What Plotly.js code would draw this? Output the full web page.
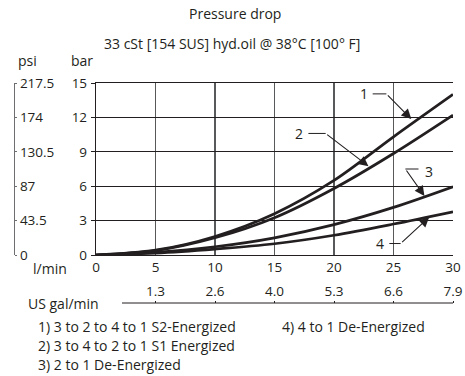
<!DOCTYPE html>
<html><head><meta charset="utf-8">
<script src="https://cdn.plot.ly/plotly-3.0.1.min.js"></script>
<style>html,body{margin:0;padding:0;background:#fff}#chart{width:465px;height:376px}</style>
</head><body><div id="chart"></div>
<script>
// ---- data ----
const flowLpm = [0, 5, 10, 15, 20, 25, 30];
const curve1 = [0, 0.42, 1.62, 3.6, 6.5, 10.3, 14.0];
const curve2 = [0, 0.38, 1.5, 3.25, 5.8, 8.85, 12.2];
const curve3 = [0, 0.24, 0.72, 1.5, 2.65, 4.15, 5.95];
const curve4 = [0, 0.17, 0.52, 0.98, 1.72, 2.7, 3.77];
const barTicks = [0, 3, 6, 9, 12, 15];
const psiTicks = [0, 43.5, 87, 130.5, 174, 217.5];
const psiLabels = ['0', '43.5', '87', '130.5', '174', '217.5'];
const lpmTicks = [0, 5, 10, 15, 20, 25, 30];
const galTicks = [5, 10, 15, 20, 25, 30];
const galLabels = ['1.3', '2.6', '4.0', '5.3', '6.6', '7.9'];
const legendLines = ['1) 3 to 2 to 4 to 1 S2-Energized', '2) 3 to 4 to 2 to 1 S1 Energized', '3) 2 to 1 De-Energized', '4) 4 to 1 De-Energized'];
const seriesNames = ['1', '2', '3', '4'];

// ---- layout geometry ----
const W = 465, H = 376, ML = 10, MR = 12, MT = 83, MB = 10;
const PW = W - ML - MR, PH = H - MT - MB;
const px = v => (v - ML) / PW;            // page x -> paper
const py = v => (H - MB - v) / PH;        // page y -> paper
const FONT = 'Open Sans, Noto Sans, sans-serif';
const TC = '#231f20';

const allCurves = [curve1, curve2, curve3, curve4];
const traces = allCurves.map((c, i) => ({
  x: flowLpm, y: c, type: 'scatter', mode: 'lines', name: seriesNames[i],
  line: {color: TC, width: 2.7, shape: 'spline', smoothing: 0.9},
  hoverinfo: 'skip', showlegend: false, xaxis: 'x', yaxis: 'y'
}));
// dummy traces to activate secondary axes
traces.push({x: [null], y: [null], xaxis: 'x2', yaxis: 'y', showlegend: false, hoverinfo: 'skip'});
traces.push({x: [null], y: [null], xaxis: 'x', yaxis: 'y2', showlegend: false, hoverinfo: 'skip'});

const xDomLeft = px(96);
const annotations = [];
const txt = (t, x, y, xa, size) => annotations.push({text: t, xref: 'paper', yref: 'paper', x: px(x), y: py(y),
  xanchor: xa || 'center', yanchor: 'middle', showarrow: false, font: {family: FONT, size: size || 14, color: TC}});
txt('Pressure drop', 235, 13);
txt('33 cSt [154 SUS] hyd.oil @ 38°C [100° F]', 232, 43);
txt('psi', 27, 61);
txt('bar', 82, 61);
txt('l/min', 50, 268);
txt('US gal/min', 63, 303);
txt(legendLines[0], 36, 326, 'left');
txt(legendLines[1], 36, 345, 'left');
txt(legendLines[2], 36, 364, 'left');
txt(legendLines[3], 280, 326, 'left');

// curve labels with bent leaders: [label, labelX, labelY, kneeX, kneeY, tipX, tipY] (data coords)
const callouts = [
  ['1', 22.5, 14.1, 24.4, 14.05, 26.5, 11.85],
  ['2', 17.1, 10.6, 19.3, 10.6, 22.9, 7.75],
  ['3', 28.0, 7.25, 26.0, 7.5, 27.6, 5.15],
  ['4', 23.9, 1.0, 25.6, 1.0, 28.0, 3.3]
];
const shapes = [];
callouts.forEach(c => {
  annotations.push({text: c[0], x: c[1], y: c[2], xref: 'x', yref: 'y', showarrow: false,
    font: {family: FONT, size: 14, color: TC}, xanchor: 'center', yanchor: 'middle'});
  const startX = c[0] === '3' ? c[1] - 0.9 : c[1] + 0.75;
  shapes.push({type: 'line', xref: 'x', yref: 'y', x0: startX, y0: c[4], x1: c[3], y1: c[4], line: {color: TC, width: 1}});
  annotations.push({text: '', x: c[5], y: c[6], ax: c[3], ay: c[4], axref: 'x', ayref: 'y', xref: 'x', yref: 'y',
    showarrow: true, arrowhead: 2, arrowsize: 1.8, arrowwidth: 1.1, arrowcolor: TC, standoff: 0, startstandoff: 0});
});
// gallon scale base line
shapes.push({type: 'line', xref: 'paper', yref: 'paper', x0: px(122), x1: 1, y0: py(303), y1: py(303),
  line: {color: TC, width: 1}});

const layout = {
  width: W, height: H, margin: {l: ML, r: MR, t: MT, b: MB},
  paper_bgcolor: '#fff', plot_bgcolor: '#fff', showlegend: false,
  font: {family: FONT, size: 13.5, color: TC},
  xaxis: {domain: [xDomLeft, 1], range: [0, 30], tickvals: lpmTicks, ticks: '', showgrid: true,
    gridcolor: '#58595b', gridwidth: 1.3, showline: true, linecolor: TC, linewidth: 1.2, mirror: true,
    zeroline: false, tickfont: {size: 13.5, color: TC}, ticklen: 0, fixedrange: true},
  xaxis2: {overlaying: 'x', anchor: 'free', position: py(303), side: 'top',
    range: [0, 30], tickvals: galTicks, ticktext: galLabels, ticks: 'outside',
    ticklen: 2, tickcolor: TC, showgrid: false, showline: false,
    zeroline: false, tickfont: {size: 13.5, color: TC}, fixedrange: true},
  yaxis: {domain: [py(255), 1], range: [0, 15], tickvals: barTicks, ticks: 'outside', ticklen: 4,
    tickcolor: TC, showgrid: true, gridcolor: TC, gridwidth: 1, showline: true, linecolor: TC, linewidth: 1.2,
    zeroline: false, tickfont: {size: 13.5, color: TC}, ticklabelstandoff: 1, fixedrange: true},
  yaxis2: {overlaying: 'y', anchor: 'free', position: px(14), side: 'right', range: [0, 217.5],
    tickvals: psiTicks, ticktext: psiLabels, ticks: 'outside', ticklen: 2, tickcolor: '#6d6e71',
    showgrid: false, showline: true, linecolor: '#6d6e71', linewidth: 1.2, zeroline: false,
    tickfont: {size: 13.5, color: TC}, fixedrange: true},
  annotations: annotations, shapes: shapes
};
Plotly.newPlot('chart', traces, layout, {staticPlot: true, displayModeBar: false});
</script></body></html>
